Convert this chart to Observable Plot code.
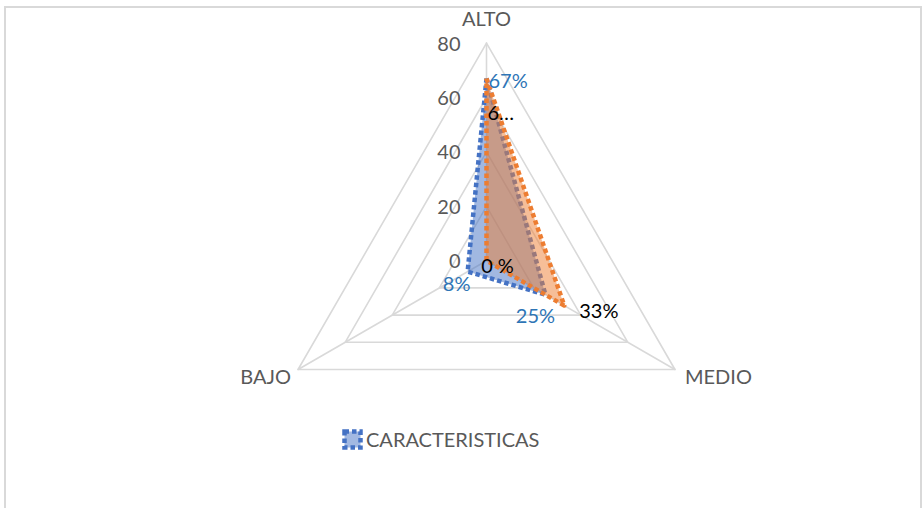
<!DOCTYPE html>
<html><head><meta charset="utf-8">
<script src="https://cdn.jsdelivr.net/npm/d3@7"></script>
<script src="https://cdn.jsdelivr.net/npm/@observablehq/plot@0.6"></script>
<style>
body{margin:0;background:#fff;font-family:Lato,"Open Sans",sans-serif;}
#wrap{position:relative;width:924px;height:508px;overflow:hidden;background:#fff}
#frame{position:absolute;left:4px;top:6px;width:918px;height:530px;border:2px solid #D9D9D9;box-sizing:border-box}
#chart{position:absolute;left:0;top:0}
#legend{position:absolute;left:342px;top:427px;display:flex;align-items:center;gap:3px;color:#595959;font-size:20px;font-family:Lato,sans-serif}
</style>
</head><body>
<div id="wrap"><div id="frame"></div><div id="chart"></div><div id="legend"></div></div>
<script>
// ---- data ----
const categories = ["ALTO", "MEDIO", "BAJO"];
const seriesNames = ["CARACTERISTICAS", "Serie 2"];
const blueValues = [67, 25, 8];
const orangeValues = [67, 33, 0];
const blueLabels = ["67%", "25%", "8%"];
const orangeLabels = ["6…", "33%", "0 %"];
const tickValues = [0, 20, 40, 60, 80];

// ---- layout / style ----
const W = 924, H = 410;
const cx = 486, cy = 260.2, k = 2.72; // pixel centre and px per unit
const angles = {ALTO: 90, MEDIO: -30, BAJO: 210};
const rMax = 80;
const font = "Lato, 'Open Sans', sans-serif";
const gray = "#595959";
const grid = "#D9D9D9";
const blue = "#4472C4", orange = "#ED7D31";
const fs = 20;

const pt = (cat, v) => {
  const a = angles[cat] * Math.PI / 180;
  return {x: v * Math.cos(a), y: v * Math.sin(a), cat, v};
};
const poly = (vals) => {
  const p = categories.map((c, i) => pt(c, vals[i]));
  return [...p, p[0]];
};

const rings = tickValues.filter(t => t > 0).flatMap(t =>
  poly(categories.map(() => t)).map(d => ({...d, ring: t})));
const spokes = categories.flatMap(c => [{...pt(c, 0), c}, {...pt(c, rMax), c}]);

const bluePoly = poly(blueValues).map(d => ({...d, s: seriesNames[0]}));
const orangePoly = poly(orangeValues).map(d => ({...d, s: seriesNames[1]}));

const blueLabelOffsets = [[2, 3, "start"], [-10, 22, "middle"], [-11, 13, "middle"]];
const orangeLabelOffsets = [[1, 35, "start"], [15, 6, "start"], [11, 6, "middle"]];
const catLabelOffsets = {ALTO: [0, -24, "middle"], MEDIO: [10, 8, "start"], BAJO: [-7, 8, "end"]};

const labelMarks = [];
categories.forEach((c, i) => {
  const [bdx, bdy, ba] = blueLabelOffsets[i];
  labelMarks.push(Plot.text([pt(c, blueValues[i])], {x: "x", y: "y", text: () => blueLabels[i],
    dx: bdx, dy: bdy, textAnchor: ba, fill: "#2E75B6", fontSize: fs, fontFamily: font}));
  const [odx, ody, oa] = orangeLabelOffsets[i];
  labelMarks.push(Plot.text([pt(c, orangeValues[i])], {x: "x", y: "y", text: () => orangeLabels[i],
    dx: odx, dy: ody, textAnchor: oa, fill: "#000000", fontSize: fs, fontFamily: font}));
  const [cdx, cdy, ca] = catLabelOffsets[c];
  labelMarks.push(Plot.text([pt(c, rMax)], {x: "x", y: "y", text: () => c,
    dx: cdx, dy: cdy, textAnchor: ca, fill: gray, fontSize: fs, fontFamily: font}));
});

const chart = Plot.plot({
  width: W, height: H, margin: 0,
  x: {domain: [-cx / k, (W - cx) / k], axis: null},
  y: {domain: [(cy - H) / k, cy / k], axis: null},
  style: {background: "transparent", overflow: "visible"},
  marks: [
    Plot.line(rings, {x: "x", y: "y", z: "ring", stroke: grid, strokeWidth: 1.6}),
    Plot.line(spokes, {x: "x", y: "y", z: "c", stroke: grid, strokeWidth: 1.6}),
    Plot.line(bluePoly, {x: "x", y: "y", fill: blue, fillOpacity: 0.5, stroke: "none", curve: "linear-closed"}),
    Plot.line(bluePoly, {x: "x", y: "y", stroke: blue, strokeWidth: 4.5, strokeDasharray: "4.5 3", strokeLinecap: "butt"}),
    Plot.line(orangePoly, {x: "x", y: "y", fill: orange, fillOpacity: 0.5, stroke: "none", curve: "linear-closed"}),
    Plot.line(orangePoly, {x: "x", y: "y", stroke: orange, strokeWidth: 4.5, strokeDasharray: "4.5 3", strokeLinecap: "butt"}),
    Plot.text(tickValues.map(t => pt("ALTO", t)), {x: "x", y: "y", text: d => String(d.v),
      dx: -26, dy: 1, textAnchor: "end", fill: gray, fontSize: fs, fontFamily: font}),
    ...labelMarks
  ]
});
document.getElementById("chart").appendChild(chart);

// legend (only first series, as in the reference)
const lg = document.getElementById("legend");
lg.innerHTML = `<svg width="21" height="21"><rect x="2.5" y="2.5" width="16" height="16" fill="#A2B9E2" stroke="${blue}" stroke-width="4.5" stroke-dasharray="4.5 3"/></svg><span>${seriesNames[0]}</span>`;
</script>
</body></html>
